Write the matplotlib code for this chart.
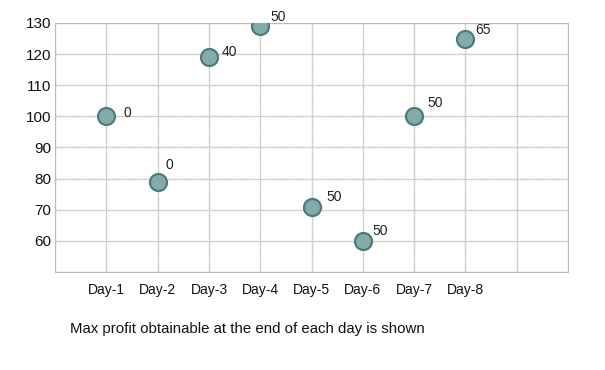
import matplotlib.pyplot as plt

plt.rcParams['font.family'] = ['Liberation Sans', 'DejaVu Sans']

days = ['Day-1', 'Day-2', 'Day-3', 'Day-4', 'Day-5', 'Day-6', 'Day-7', 'Day-8']
prices = [100, 79, 119, 129, 71, 60, 100, 125]
profits = [0, 0, 40, 50, 50, 50, 50, 65]

# label placement (pixels from the point), just cosmetic
label_offsets = [(17, 3), (8, 17), (13, 5), (10, 9), (15, 10), (10, 10), (13, 13), (10, 9)]

fig = plt.figure(figsize=(6.05, 3.70), dpi=100)
ax = fig.add_axes([0.091, 0.265, 0.848, 0.673])

x = list(range(1, len(days) + 1))
ax.scatter(x, prices, s=150, color='#82abab', edgecolors='#4e7b7b', linewidths=1.6, zorder=3)

for xi, yi, p, off in zip(x, prices, profits, label_offsets):
    ax.annotate(str(p), (xi, yi), xytext=off, textcoords='offset pixels',
                ha='left', va='center', fontsize=10, color='#222222')

ax.set_xlim(0, 10)
ax.set_ylim(50, 130)
ax.set_xticks(range(0, 11))
ax.set_xticklabels([''] + days + ['', ''])
ax.set_yticks(range(50, 131, 10))
ax.set_yticklabels([''] + [str(v) for v in range(60, 131, 10)])
ax.tick_params(axis='x', length=0, labelsize=10, colors='#111111', pad=8)
ax.tick_params(axis='y', length=0, labelsize=11, colors='#111111', pad=3)
ax.grid(True, color='#c4c4c4', linewidth=1, linestyle=(0, (1, 0.3)))
for s in ax.spines.values():
    s.set_color('#bbbbbb')
ax.set_axisbelow(True)

fig.text(0.115, 0.1, 'Max profit obtainable at the end of each day is shown',
         fontsize=10.8, color='#111111')

fig.savefig('out.png', dpi=100)
